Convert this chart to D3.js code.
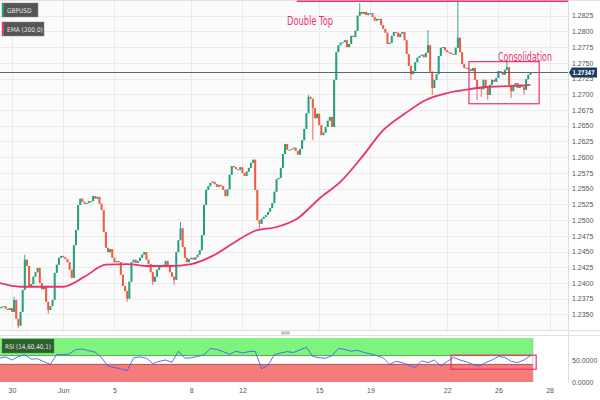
<!DOCTYPE html>
<html><head><meta charset="utf-8">
<script src="https://cdn.jsdelivr.net/npm/d3@7"></script>
<style>
body{margin:0;background:#fff;}
svg{display:block;font-family:"Liberation Sans Narrow","DejaVu Sans Condensed","Roboto",sans-serif;}
</style></head><body>
<svg id="c" width="600" height="400"></svg>
<script>
// ---------- DATA (2-hour bars, GBP/USD) ----------
const firstOpen = 1.2358;
const closes = [
1.2360,1.2362,1.2363,1.2359,1.2357,1.2360,1.2354,1.2373,1.2343,1.2332,
1.2354,1.2389,1.2437,1.2427,1.2395,1.2398,1.2410,1.2417,1.2424,1.2400,
1.2390,1.2394,1.2370,1.2357,1.2363,1.2373,1.2416,1.2429,1.2440,1.2443,
1.2441,1.2438,1.2433,1.2421,1.2408,1.2460,1.2484,1.2524,1.2534,1.2529,
1.2526,1.2527,1.2530,1.2530,1.2538,1.2534,1.2537,1.2526,1.2516,1.2481,
1.2456,1.2449,1.2454,1.2440,1.2433,1.2435,1.2433,1.2413,1.2395,1.2387,
1.2375,1.2402,1.2433,1.2437,1.2432,1.2435,1.2440,1.2445,1.2449,1.2437,
1.2430,1.2417,1.2402,1.2410,1.2421,1.2425,1.2427,1.2429,1.2435,1.2427,
1.2417,1.2410,1.2405,1.2449,1.2468,1.2487,1.2457,1.2440,1.2433,1.2438,
1.2440,1.2437,1.2441,1.2445,1.2452,1.2476,1.2524,1.2548,1.2554,1.2559,
1.2561,1.2557,1.2553,1.2556,1.2554,1.2548,1.2538,1.2549,1.2572,1.2586,
1.2584,1.2581,1.2580,1.2584,1.2575,1.2570,1.2577,1.2583,1.2591,1.2596,
1.2548,1.2500,1.2494,1.2502,1.2505,1.2508,1.2513,1.2519,1.2527,1.2545,
1.2565,1.2567,1.2583,1.2605,1.2621,1.2612,1.2612,1.2613,1.2615,1.2610,
1.2604,1.2613,1.2627,1.2645,1.2670,1.2696,1.2693,1.2678,1.2662,1.2669,
1.2651,1.2635,1.2639,1.2648,1.2658,1.2664,1.2648,1.2723,1.2767,1.2778,
1.2782,1.2783,1.2786,1.2775,1.2780,1.2793,1.2791,1.2801,1.2825,1.2831,
1.2828,1.2831,1.2826,1.2829,1.2829,1.2823,1.2817,1.2820,1.2820,1.2810,
1.2804,1.2798,1.2780,1.2782,1.2793,1.2799,1.2798,1.2791,1.2796,1.2799,
1.2786,1.2764,1.2745,1.2732,1.2737,1.2751,1.2758,1.2761,1.2763,1.2759,
1.2766,1.2778,1.2736,1.2710,1.2723,1.2732,1.2761,1.2774,1.2775,1.2770,
1.2767,1.2766,1.2764,1.2763,1.2774,1.2790,1.2767,1.2748,1.2742,1.2742,
1.2740,1.2737,1.2742,1.2723,1.2710,1.2710,1.2708,1.2723,1.2712,1.2699,
1.2715,1.2723,1.2720,1.2726,1.2737,1.2734,1.2731,1.2739,1.2743,1.2715,
1.2705,1.2715,1.2718,1.2710,1.2715,1.2712,1.2707,1.2724,1.2731,1.27347
];
// notable wicks: [bar index, high, low]
const wicks = [
[7,1.2378,null],[9,null,1.2328],[12,1.2445,null],[23,null,1.2351],[60,null,1.2370],
[72,null,1.2397],[82,null,1.2397],[85,1.2497,null],[122,null,1.2487],[145,1.2699,null],
[147,null,1.2627],[169,1.2845,null],[193,null,1.2723],[201,1.2802,null],[203,null,1.2699],
[215,1.2847,null],[224,null,1.2691],[226,null,1.2696],[229,null,1.2691],[238,1.2755,null],
[240,null,1.2694],[246,null,1.2699]
];
// EMA(200) read every 10 bars (last value = last bar)
const emaValues = [1.2400,1.2394,1.2394,1.2394,1.2410,1.2429,1.2430,1.2427,1.2427,1.2430,
1.2443,1.2464,1.2483,1.2489,1.2503,1.2534,1.2561,1.2600,1.2643,1.2669,
1.2691,1.2702,1.2708,1.2712,1.2713,1.2715];
// RSI(14) read every 3 bars
const rsiValues = [54,57,50,58,62,52,53,46,40,63,62,64,74,75,71,68,55,36,33,30,
26,55,57,54,42,47,50,45,70,54,55,58,62,76,74,69,63,70,66,69,
70,30,38,62,66,69,67,73,79,58,55,54,60,76,74,70,72,67,64,60,
55,40,47,44,38,33,48,44,50,36,47,56,50,46,40,36,44,50,58,56,
47,44,50,60];
const priceTicks = [1.2350,1.2375,1.2400,1.2425,1.2450,1.2475,1.2500,1.2525,1.2550,1.2575,
1.2600,1.2625,1.2650,1.2675,1.2700,1.2725,1.2750,1.2775,1.2800,1.2825];
const dayTicks = [0,2,4,7,9,12,14,17,19,21];        // trading days from 30 May
const dayLabels = ["30","Jun","5","8","12","15","19","22","26","28"];
const rsiTicks = [0,50];
const lastPrice = 1.27347;
const doubleTopLevel = 1.2848;
const consolidation = {fromBar:220.2, toBar:253.1, high:1.2752, low:1.2685};
const rsiBox = {fromBar:211.8, toBar:251.7, high:61, low:29};
const barsPerDay = 12, firstBarDay = -0.5;

// ---------- LAYOUT ----------
const W = 600, plotR = 568, mainTop = 0, mainBot = 330, rsiTop = 338, rsiBot = 382;
const svg = d3.select("#c");
const t = i => firstBarDay + i / barsPerDay;
const x = d3.scaleLinear().domain([-12/25.6, (plotR-12)/25.6]).range([0, plotR]);
const y = d3.scaleLinear().domain([1.2350, 1.2825]).range([314.4, 15.7]);
const yr = d3.scaleLinear().domain([0, 100]).range([rsiBot, rsiTop]);
const green = "#24a17b", red = "#ef5a41", pink = "#e8336d";

svg.append("rect").attr("width",W).attr("height",400).attr("fill","#fff");
svg.append("rect").attr("x",0).attr("y",mainTop).attr("width",plotR).attr("height",mainBot).attr("fill","#fbfbfb");

// gridlines
const grid = svg.append("g").attr("stroke","#ebebeb").attr("stroke-width",1);
grid.selectAll("line.h").data(priceTicks).join("line")
  .attr("x1",0).attr("x2",plotR).attr("y1",d=>Math.round(y(d))+0.5).attr("y2",d=>Math.round(y(d))+0.5);
grid.selectAll("line.v").data(dayTicks).join("line")
  .attr("y1",0).attr("y2",mainBot).attr("x1",d=>Math.round(x(d))+0.5).attr("x2",d=>Math.round(x(d))+0.5);

// borders
svg.append("line").attr("x1",0).attr("x2",W).attr("y1",0.5).attr("y2",0.5).attr("stroke","#e2e2e2");
svg.append("line").attr("x1",plotR+0.5).attr("x2",plotR+0.5).attr("y1",0).attr("y2",rsiBot).attr("stroke","#dcdcdc");
svg.append("line").attr("x1",0).attr("x2",W).attr("y1",mainBot+0.5).attr("y2",mainBot+0.5).attr("stroke","#dcdcdc");
svg.append("line").attr("x1",0).attr("x2",W).attr("y1",rsiTop-2.5).attr("y2",rsiTop-2.5).attr("stroke","#e4e4e4");
svg.append("rect").attr("x",281).attr("y",331.5).attr("width",9).attr("height",3).attr("fill","#c4c4c4");

// candles
const bars = closes.map((c,i)=>{
  const o = i===0 ? firstOpen : closes[i-1];
  const w = wicks.find(d=>d[0]===i);
  return {i, o, c, h: w && w[1]!==null ? w[1] : Math.max(o,c), l: w && w[2]!==null ? w[2] : Math.min(o,c)};
});
const cg = svg.append("g");
cg.selectAll("line").data(bars).join("line")
  .attr("x1",d=>x(t(d.i))).attr("x2",d=>x(t(d.i)))
  .attr("y1",d=>y(d.h)).attr("y2",d=>y(d.l))
  .attr("stroke",d=>d.c>=d.o?green:red).attr("stroke-width",0.9);
cg.selectAll("rect").data(bars).join("rect")
  .attr("x",d=>x(t(d.i))-1).attr("width",2)
  .attr("y",d=>Math.min(y(d.o),y(d.c))).attr("height",d=>Math.max(1,Math.abs(y(d.o)-y(d.c))))
  .attr("fill",d=>d.c>=d.o?green:red);

// EMA
const emaPts = emaValues.map((v,k)=>[x(t(Math.min(k*10, closes.length-1))), y(v)]);
svg.append("path").attr("d", d3.line().curve(d3.curveMonotoneX)(emaPts))
  .attr("fill","none").attr("stroke",pink).attr("stroke-width",1.8);

// current price line
svg.append("line").attr("x1",0).attr("x2",plotR).attr("y1",y(lastPrice)).attr("y2",y(lastPrice))
  .attr("stroke","#56677b").attr("stroke-width",1);

// Double top line and label
svg.append("line").attr("x1",x(t(139.5))).attr("x2",plotR).attr("y1",y(doubleTopLevel)).attr("y2",y(doubleTopLevel))
  .attr("stroke",pink).attr("stroke-width",1.5);
svg.append("text").attr("x",287).attr("y",24.5).text("Double Top")
  .attr("font-size",12).attr("fill",pink).attr("textLength",46).attr("lengthAdjust","spacingAndGlyphs");

// Consolidation box
svg.append("rect").attr("x",x(t(consolidation.fromBar))).attr("y",y(consolidation.high))
  .attr("width",x(t(consolidation.toBar))-x(t(consolidation.fromBar)))
  .attr("height",y(consolidation.low)-y(consolidation.high))
  .attr("fill","none").attr("stroke",pink).attr("stroke-width",1.2);
svg.append("text").attr("x",498).attr("y",61).text("Consolidation")
  .attr("font-size",12).attr("fill",pink).attr("textLength",54).attr("lengthAdjust","spacingAndGlyphs");

// price axis
const pa = svg.append("g").attr("transform",`translate(${plotR},0)`)
  .call(d3.axisRight(y).tickValues(priceTicks).tickFormat(d3.format(".4f")).tickSize(0).tickPadding(4));
pa.select(".domain").remove();
pa.selectAll("text").attr("font-size",7).attr("fill","#555").attr("font-family","inherit");

// last price tag
const ly = y(lastPrice);
svg.append("path").attr("d",`M${plotR+1},${ly} L${plotR+4},${ly-5} L${W-3},${ly-5} L${W-3},${ly+5} L${plotR+4},${ly+5} Z`)
  .attr("fill","#1c3a62");
svg.append("text").attr("x",plotR+4.5).attr("y",ly+2.5).text(lastPrice.toFixed(5))
  .attr("font-size",6.5).attr("fill","#fff").attr("font-weight","bold")
  .attr("textLength",22).attr("lengthAdjust","spacingAndGlyphs");

// legend boxes
function tag(yy, w, label, edge){
  svg.append("rect").attr("x",2).attr("y",yy).attr("width",w).attr("height",14).attr("fill","#555").attr("stroke","#888").attr("stroke-width",0.5);
  svg.append("rect").attr("x",2).attr("y",yy).attr("width",2).attr("height",14).attr("fill",edge);
  svg.append("text").attr("x",7).attr("y",yy+9.5).text(label).attr("font-size",6.5).attr("fill","#e6e6e6");
}
tag(3, 36, "GBPUSD", "#1f9c74");
tag(22, 42, "EMA (200,0)", pink);

// ---------- RSI panel ----------
const rsiEnd = x(t(closes.length-1)) + 2.5;
svg.append("rect").attr("x",0).attr("y",yr(100)).attr("width",rsiEnd).attr("height",yr(60)-yr(100)).attr("fill","#7ef47e");
svg.append("rect").attr("x",0).attr("y",yr(40)).attr("width",rsiEnd).attr("height",yr(0)-yr(40)).attr("fill","#f67c7c");
svg.append("line").attr("x1",0).attr("x2",rsiEnd).attr("y1",yr(60)).attr("y2",yr(60)).attr("stroke","#3f8f3f").attr("stroke-width",0.8);
svg.append("line").attr("x1",0).attr("x2",rsiEnd).attr("y1",yr(40)).attr("y2",yr(40)).attr("stroke","#a03a3a").attr("stroke-width",0.8);
svg.append("line").attr("x1",rsiEnd).attr("x2",rsiEnd).attr("y1",yr(100)).attr("y2",yr(0)).attr("stroke","#999").attr("stroke-width",0.5);

const rsiPts = rsiValues.map((v,k)=>[x(t(k*3)), yr(v)]);
svg.append("path").attr("d", d3.line()(rsiPts)).attr("fill","none").attr("stroke","#4c5cf2").attr("stroke-width",0.9);

svg.append("rect").attr("x",x(t(rsiBox.fromBar))).attr("y",yr(rsiBox.high))
  .attr("width",x(t(rsiBox.toBar))-x(t(rsiBox.fromBar))).attr("height",yr(rsiBox.low)-yr(rsiBox.high))
  .attr("fill","none").attr("stroke",pink).attr("stroke-width",1.2);

svg.append("rect").attr("x",2).attr("y",339).attr("width",52).attr("height",14).attr("fill","#2f5f2f").attr("stroke","#5a8a5a").attr("stroke-width",0.5);
svg.append("text").attr("x",5).attr("y",348.5).text("RSI (14,60,40,1)").attr("font-size",6.5).attr("fill","#e8e8e8")
  .attr("textLength",46).attr("lengthAdjust","spacingAndGlyphs");

const ra = svg.append("g").attr("transform",`translate(${plotR},0)`)
  .call(d3.axisRight(yr).tickValues(rsiTicks).tickFormat(d3.format(".4f")).tickSize(0).tickPadding(4));
ra.select(".domain").remove();
ra.selectAll("text").attr("font-size",7).attr("fill","#555").attr("font-family","inherit");

// time axis
const xa = svg.append("g").attr("transform",`translate(0,${rsiBot+4})`)
  .call(d3.axisBottom(x).tickValues(dayTicks).tickFormat((d,i)=>dayLabels[i]).tickSize(0).tickPadding(2));
xa.select(".domain").remove();
xa.selectAll("text").attr("font-size",7).attr("fill","#555").attr("font-family","inherit");
</script>
</body></html>
